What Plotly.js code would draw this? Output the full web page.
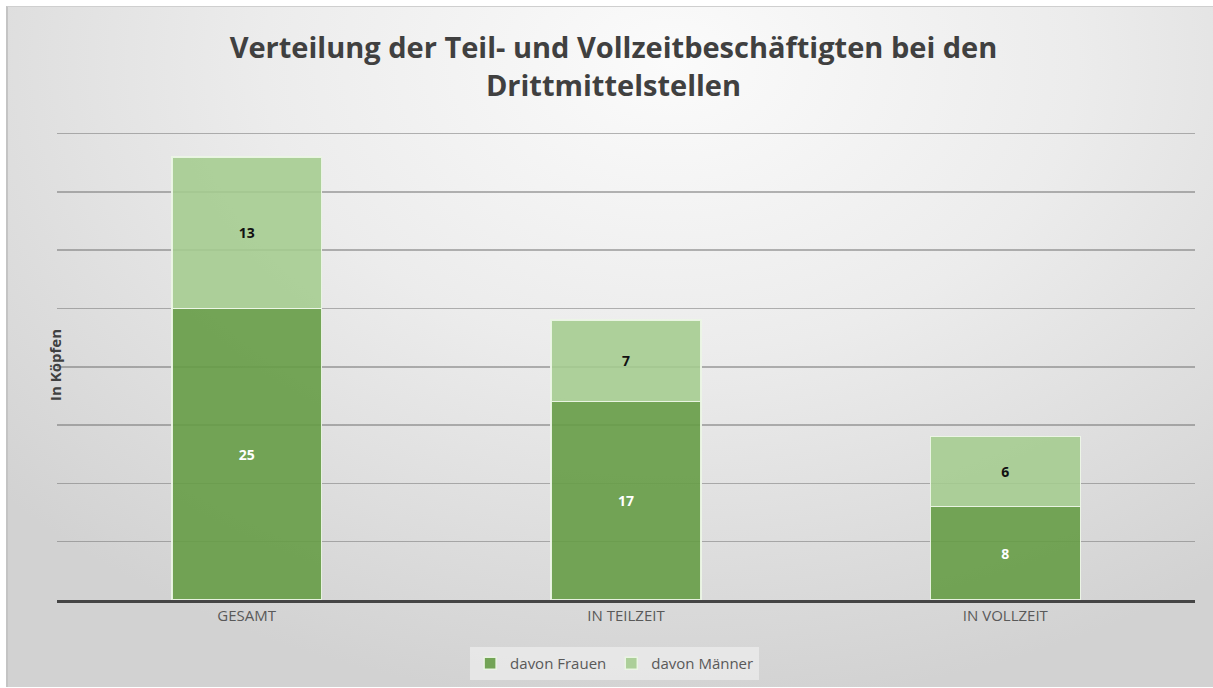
<!DOCTYPE html>
<html>
<head>
<meta charset="utf-8">
<script src="https://cdn.plot.ly/plotly-3.0.1.min.js"></script>
<style>
  html, body { margin: 0; padding: 0; width: 1213px; height: 688px; overflow: hidden; background: #ffffff; }
  #frame {
    position: absolute; left: 6px; top: 6px; width: 1205px; height: 680px;
    border-left: 2px solid #c4c4c4; border-top: 1px solid #cfcfcf;
    background: radial-gradient(ellipse 75% 95% at 55% 8%, #fbfbfb 0%, #ececec 45%, #d2d2d2 100%);
  }
  #chart { position: absolute; left: 0; top: 0; width: 1213px; height: 688px; }
</style>
</head>
<body>
<div id="frame"></div>
<div id="chart"></div>
<script>
const categories = ["GESAMT", "IN TEILZEIT", "IN VOLLZEIT"];
const frauen = [25, 17, 8];
const maenner = [13, 7, 6];
const seriesNames = ["davon Frauen", "davon Männer"];

const FONT = "'Open Sans', Lato, sans-serif";

const traces = [
  {
    type: "bar", name: seriesNames[0], x: categories, y: frauen,
    text: frauen.map(String), textposition: "inside", insidetextanchor: "middle",
    textfont: { family: FONT, size: 14, color: "#ffffff", weight: "bold" },
    marker: { color: "rgba(102,156,70,0.9)", line: { color: "rgba(236,246,230,0.95)", width: 1.5 } },
    hoverinfo: "none"
  },
  {
    type: "bar", name: seriesNames[1], x: categories, y: maenner,
    text: maenner.map(String), textposition: "inside", insidetextanchor: "middle",
    textfont: { family: FONT, size: 14, color: "#111111", weight: "bold" },
    marker: { color: "rgba(164,204,142,0.88)", line: { color: "rgba(236,246,230,0.95)", width: 1.5 } },
    hoverinfo: "none"
  }
];

const layout = {
  width: 1213, height: 688,
  paper_bgcolor: "rgba(0,0,0,0)", plot_bgcolor: "rgba(0,0,0,0)",
  margin: { l: 57, r: 18, t: 130, b: 88, autoexpand: false },
  barmode: "stack", bargap: 0.605,
  font: { family: FONT, color: "#595959" },
  title: {
    text: "Verteilung der Teil- und Vollzeitbeschäftigten bei den<br>Drittmittelstellen",
    font: { family: FONT, size: 29, color: "#404040", weight: "bold" },
    x: 0.489, xanchor: "center", xref: "paper",
    y: 1 - 58 / 688, yanchor: "top", yref: "container"
  },
  xaxis: {
    tickfont: { family: FONT, size: 15, color: "#595959" },
    showline: true, linecolor: "#454545", linewidth: 2.5,
    ticks: "", showgrid: false, zeroline: false, automargin: false
  },
  yaxis: {
    range: [0, 40.3], dtick: 5, showticklabels: false,
    showgrid: true, gridcolor: "rgba(110,110,110,0.5)", gridwidth: 1.5,
    zeroline: false, showline: false, ticks: "", automargin: false
  },
  showlegend: true,
  legend: {
    orientation: "h", x: 0.49, xanchor: "center", y: -0.1, yanchor: "top",
    bgcolor: "rgba(238,238,238,0.7)", font: { family: FONT, size: 15, color: "#595959" },
    traceorder: "normal"
  },
  annotations: [
    {
      text: "In Köpfen", xref: "paper", yref: "paper",
      x: (43 - 57) / 1138, y: 0.5, textangle: -90, showarrow: false,
      font: { family: FONT, size: 15, color: "#404040", weight: "bold" }
    }
  ]
};

Plotly.newPlot("chart", traces, layout, { displayModeBar: false, staticPlot: true });
</script>
</body>
</html>
